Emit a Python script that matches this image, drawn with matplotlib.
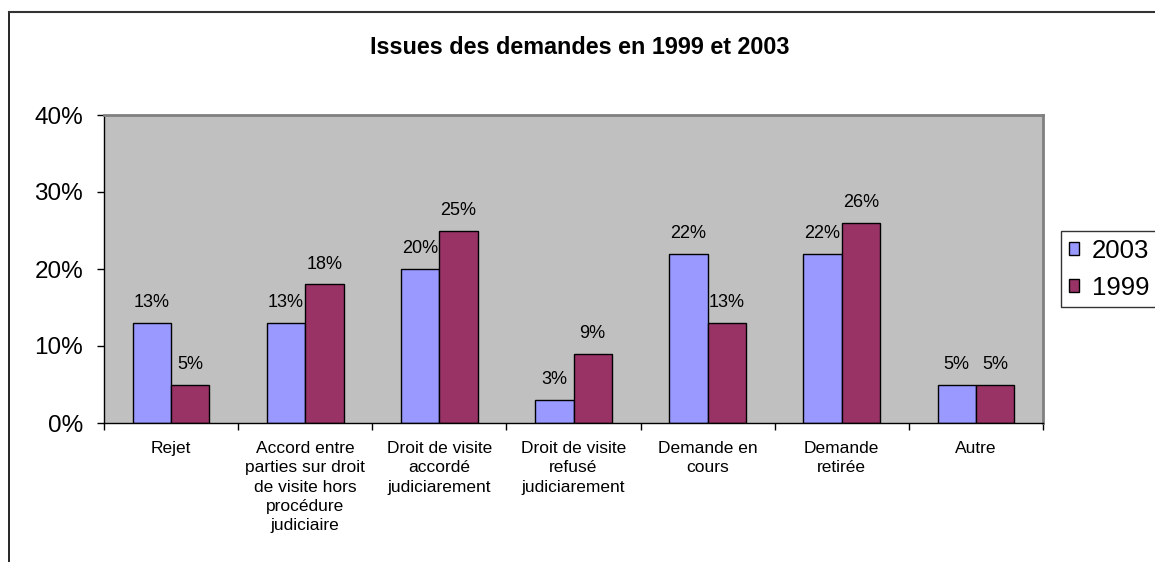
import numpy as np
import matplotlib
matplotlib.use("Agg")
import matplotlib.pyplot as plt
from matplotlib.lines import Line2D

plt.rcParams['font.family'] = ['Liberation Sans', 'DejaVu Sans']

categories = ["Rejet",
              "Accord entre\nparties sur droit\nde visite hors\nprocédure\njudiciaire",
              "Droit de visite\naccordé\njudiciarement",
              "Droit de visite\nrefusé\njudiciarement",
              "Demande en\ncours",
              "Demande\nretirée",
              "Autre"]
vals_2003 = [13, 13, 20, 3, 22, 22, 5]
vals_1999 = [5, 18, 25, 9, 13, 26, 5]
yticks = [0, 10, 20, 30, 40]

fig = plt.figure(figsize=(11.55, 5.62), dpi=100)
ax = fig.add_axes([104/1155, 1-423/562, (1043-104)/1155, (423-115)/562])
ax.set_facecolor('#C0C0C0')

index = np.arange(len(categories))
bar_width = 1/3.5
b1 = ax.bar(index - bar_width/2, vals_2003, bar_width, color='#9999FF',
            edgecolor='black', linewidth=1, label='2003')
b2 = ax.bar(index + bar_width/2, vals_1999, bar_width, color='#993366',
            edgecolor='black', linewidth=1, label='1999')

for bars, vals in ((b1, vals_2003), (b2, vals_1999)):
    for r, v in zip(bars, vals):
        ax.annotate("%d%%" % v, (r.get_x() + r.get_width()/2, v),
                    xytext=(0, 14.5), textcoords='offset points',
                    ha='center', va='center', fontsize=13)

ax.set_xlim(-0.5, len(categories) - 0.5)
ax.set_ylim(0, 40)
ax.set_yticks(yticks)
ax.set_yticklabels(["%d%%" % t for t in yticks], fontsize=17.5)
ax.tick_params(axis='y', length=5, width=1, pad=10)
ax.set_xticks(index)
ax.set_xticklabels(categories, fontsize=12.5, linespacing=1.36, va='top')
ax.tick_params(axis='x', length=0, pad=13)
ax.set_xticks(np.arange(len(categories) + 1) - 0.5, minor=True)
ax.tick_params(axis='x', which='minor', length=5, width=1)

for s in ('top', 'right'):
    ax.spines[s].set_color('#808080')
    ax.spines[s].set_linewidth(2)
for s in ('left', 'bottom'):
    ax.spines[s].set_color('black')
    ax.spines[s].set_linewidth(1)

fig.text(580/1155, 1-47/562, "Issues des demandes en 1999 et 2003",
         ha='center', va='center', fontsize=16.8, fontweight='bold')

# outer chart frame (only left and top edges visible)
fig.add_artist(Line2D([9/1155, 9/1155], [0, 1-12/562], color='black', lw=1.2,
                      transform=fig.transFigure))
fig.add_artist(Line2D([9/1155, 1], [1-12/562, 1-12/562], color='#333333', lw=1.5,
                      transform=fig.transFigure))

leg = fig.legend(handles=[b1, b2], loc='upper left',
                 bbox_to_anchor=(1061/1155, 1-231/562), fontsize=18.5,
                 frameon=True, fancybox=False, edgecolor='black',
                 handlelength=0.4, handleheight=0.4, handletextpad=0.5,
                 labelspacing=0.5, borderpad=0.3, borderaxespad=0)
leg.get_frame().set_linewidth(1)

fig.savefig("out.png", dpi=100)
